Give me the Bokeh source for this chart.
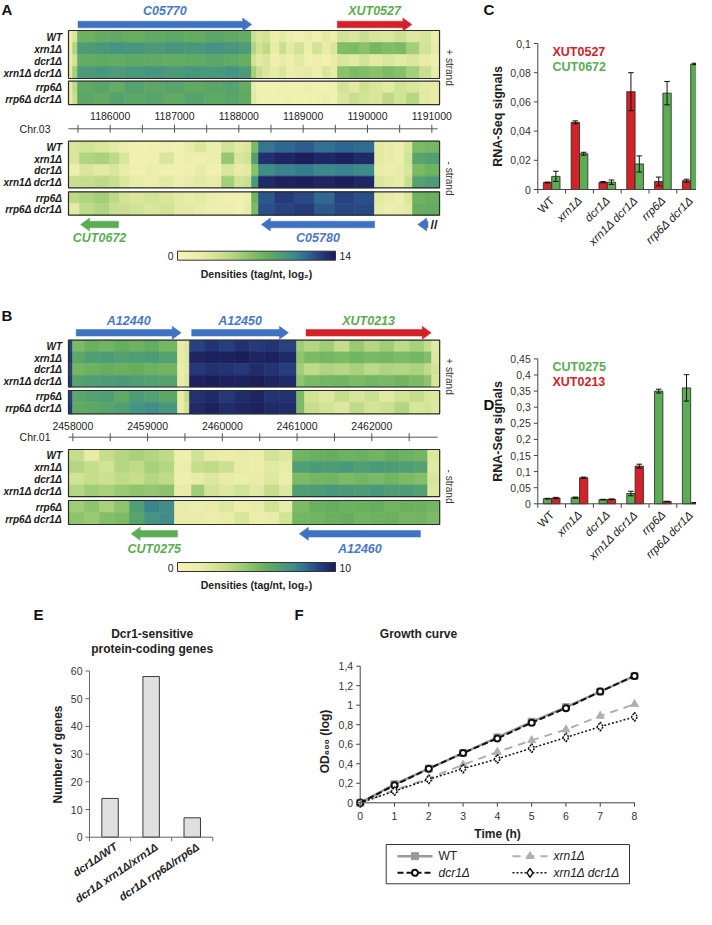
import numpy as np
from bokeh.plotting import figure
from bokeh.models import Range1d, ColumnDataSource, LinearColorMapper
from bokeh.transform import transform
from bokeh.core.properties import value
from bokeh.embed import file_html
from bokeh.resources import INLINE

# ============================ DATA ============================
ROWS = ["WT", "xrn1Δ", "dcr1Δ", "xrn1Δ dcr1Δ", "rrp6Δ", "rrp6Δ dcr1Δ"]

# ---- Panel A (Chr.03), log2 densities 0..14 ----
A_ticks = [1185500, 1186000, 1186500, 1187000, 1187500, 1188000, 1188500,
           1189000, 1189500, 1190000, 1190500, 1191000]
A_tick_labels = ["1186000", "1187000", "1188000", "1189000", "1190000", "1191000"]
A_plus_edges = [1185352, 1185414, 1185492, 1185756, 1185990, 1186223, 1186534, 1186845,
                1187156, 1187466, 1187777, 1188010, 1188197, 1188274, 1188368, 1188492,
                1188632, 1188741, 1188866, 1189021, 1189146, 1189301, 1189425, 1189534,
                1189721, 1189876, 1190032, 1190234, 1190420, 1190607, 1190809, 1190996, 1191120]
A_plus = {
    "WT":          [1.5, 3.0, 7.6, 8.0, 8.2, 7.9, 8.1, 8.3, 8.0, 8.4, 8.2, 8.0, 4.0, 3.0, 3.5, 1.5,
                    2.5, 1.5, 1.0, 2.0, 1.2, 2.5, 1.5, 3.5, 3.0, 4.0, 3.2, 3.0, 3.8, 2.8, 3.2, 1.5],
    "xrn1Δ":       [2.0, 5.0, 9.2, 9.5, 9.8, 9.6, 9.4, 9.7, 9.5, 9.8, 9.6, 9.3, 5.0, 3.5, 4.5, 2.0,
                    4.0, 2.5, 3.5, 1.5, 3.5, 2.0, 3.0, 6.8, 7.0, 6.5, 7.2, 6.8, 7.0, 5.5, 3.5, 2.0],
    "dcr1Δ":       [1.8, 3.5, 8.0, 8.2, 8.0, 8.3, 8.1, 8.0, 8.2, 8.4, 8.1, 7.8, 3.5, 2.5, 3.0, 1.2,
                    2.0, 1.5, 2.5, 1.0, 1.5, 1.0, 2.0, 3.0, 2.5, 3.5, 2.5, 3.0, 2.5, 3.0, 2.0, 1.2],
    "xrn1Δ dcr1Δ": [2.5, 5.5, 9.4, 9.6, 9.3, 9.5, 9.7, 9.4, 9.6, 9.5, 9.8, 9.4, 5.5, 4.0, 3.0, 2.0,
                    3.0, 1.5, 2.0, 2.5, 1.5, 3.0, 2.0, 6.5, 7.0, 6.8, 6.5, 7.0, 6.6, 5.5, 4.0, 2.0],
    "rrp6Δ":       [2.5, 4.5, 8.2, 8.6, 8.0, 8.8, 8.3, 8.6, 8.1, 8.5, 8.7, 8.0, 2.0, 1.0, 1.0, 1.0,
                    1.2, 1.0, 1.0, 1.5, 1.0, 1.0, 1.2, 3.5, 2.5, 3.8, 3.0, 2.5, 3.5, 3.0, 2.5, 2.0],
    "rrp6Δ dcr1Δ": [2.0, 4.0, 8.4, 8.2, 8.8, 8.4, 8.6, 8.2, 8.7, 8.3, 8.5, 8.1, 2.5, 1.2, 1.0, 1.0,
                    1.0, 1.2, 1.0, 1.0, 1.0, 1.5, 1.0, 3.0, 4.0, 3.5, 3.0, 4.5, 3.5, 4.8, 2.5, 2.0],
}
A_minus_edges = [1185352, 1185523, 1185756, 1185990, 1186145, 1186301, 1186534, 1186767,
                 1187000, 1187156, 1187311, 1187498, 1187731, 1187933, 1188089, 1188197,
                 1188306, 1188555, 1188866, 1189177, 1189488, 1189799, 1190109, 1190264,
                 1190420, 1190575, 1190700, 1190886, 1191120]
A_minus = {
    "WT":          [3.0, 3.5, 3.0, 2.5, 1.5, 1.0, 1.0, 1.2, 1.0, 2.0, 3.0, 1.5, 3.5, 2.5,
                    3.0, 7.0, 11.0, 11.5, 11.8, 11.2, 11.6, 11.4, 2.5, 2.0, 1.5, 3.0, 7.0, 7.2],
    "xrn1Δ":       [3.0, 5.0, 5.2, 4.5, 3.0, 1.0, 1.2, 3.0, 1.0, 1.5, 1.2, 1.5, 6.0, 3.0,
                    3.5, 9.0, 13.2, 13.6, 13.8, 13.5, 13.7, 13.4, 2.5, 2.0, 1.5, 3.5, 8.5, 9.0],
    "dcr1Δ":       [1.5, 3.0, 2.5, 3.0, 2.0, 1.0, 1.5, 1.0, 1.0, 1.2, 2.0, 1.0, 3.0, 2.0,
                    2.5, 6.5, 10.2, 10.6, 10.8, 10.4, 10.6, 10.3, 2.0, 1.5, 2.0, 3.0, 7.0, 7.5],
    "xrn1Δ dcr1Δ": [4.0, 4.2, 4.5, 4.0, 3.0, 2.0, 1.5, 2.5, 1.5, 2.0, 2.5, 2.0, 5.5, 3.5,
                    4.0, 9.5, 13.4, 13.7, 13.8, 13.6, 13.8, 13.5, 3.0, 2.5, 2.0, 4.0, 8.8, 9.2],
    "rrp6Δ":       [4.5, 5.0, 5.5, 4.5, 3.5, 3.0, 3.5, 3.0, 2.5, 2.0, 2.5, 1.5, 1.2, 1.0,
                    1.5, 7.5, 12.0, 12.8, 12.4, 11.5, 12.6, 12.2, 2.5, 2.0, 1.5, 3.0, 7.5, 7.8],
    "rrp6Δ dcr1Δ": [2.5, 4.5, 5.0, 4.0, 4.0, 3.5, 3.0, 3.5, 2.5, 2.5, 2.0, 1.5, 1.5, 1.0,
                    2.0, 7.0, 12.2, 12.6, 12.8, 12.0, 12.5, 12.4, 2.0, 1.5, 2.0, 2.5, 7.8, 8.0],
}
A_gene_name = ["C05770", "XUT0527", "CUT0672", "C05780", ""]
A_gene_start = [1185500, 1189530, 1185540, 1188350, 1190780]
A_gene_end = [1188200, 1190690, 1186130, 1190110, 1190940]
A_gene_strand = ["+", "+", "-", "-", "-"]

# ---- Panel B (Chr.01), log2 densities 0..10 ----
B_ticks = [2458000, 2458500, 2459000, 2459500, 2460000, 2460500, 2461000,
           2461500, 2462000, 2462500]
B_tick_labels = ["2458000", "2459000", "2460000", "2461000", "2462000"]
B_plus_edges = [2457942, 2457996, 2458156, 2458357, 2458557, 2458758, 2458959, 2459159,
                2459400, 2459493, 2459560, 2459761, 2459962, 2460163, 2460363, 2460564,
                2460765, 2460993, 2461100, 2461301, 2461502, 2461703, 2461904, 2462105,
                2462306, 2462507, 2462707, 2462801, 2462908]
B_plus = {
    "WT":          [9.0, 5.0, 5.5, 5.3, 5.6, 5.4, 5.7, 5.2, 1.5, 2.0, 9.0, 9.3, 9.1, 9.4,
                    9.2, 9.3, 9.0, 4.0, 3.5, 4.0, 3.0, 4.2, 3.5, 4.0, 3.2, 3.8, 3.0, 1.8],
    "xrn1Δ":       [9.2, 6.0, 6.5, 6.6, 6.4, 6.5, 6.6, 6.3, 1.5, 2.0, 9.7, 9.8, 9.8, 9.9,
                    9.7, 9.8, 9.6, 4.5, 5.0, 5.2, 5.0, 5.3, 5.1, 5.2, 5.0, 5.2, 4.8, 2.0],
    "dcr1Δ":       [9.0, 5.2, 5.4, 5.6, 5.5, 5.6, 5.4, 5.3, 1.2, 1.8, 9.2, 9.4, 9.3, 9.2,
                    9.5, 9.3, 9.1, 4.0, 3.2, 3.6, 3.4, 3.8, 3.3, 3.6, 3.5, 3.7, 3.2, 2.5],
    "xrn1Δ dcr1Δ": [9.2, 6.2, 6.5, 6.6, 6.7, 6.5, 6.4, 6.3, 1.5, 2.0, 9.8, 9.9, 9.8, 9.8,
                    9.9, 9.7, 9.6, 4.5, 5.0, 5.2, 5.3, 5.0, 5.2, 5.1, 5.3, 5.0, 4.5, 2.2],
    "rrp6Δ":       [9.0, 6.0, 6.3, 6.5, 5.8, 6.6, 6.4, 6.0, 1.5, 3.0, 9.4, 9.6, 9.2, 9.5,
                    9.7, 9.3, 9.4, 5.0, 2.5, 2.0, 3.0, 2.2, 2.8, 1.8, 2.5, 3.0, 2.2, 2.0],
    "rrp6Δ dcr1Δ": [9.2, 5.8, 6.0, 6.2, 6.5, 7.0, 7.2, 6.8, 1.5, 2.5, 9.6, 9.8, 9.5, 9.7,
                    9.8, 9.6, 9.5, 5.0, 3.0, 2.5, 2.0, 3.2, 2.4, 2.8, 3.5, 2.2, 2.5, 2.0],
}
B_minus_edges = [2457942, 2458156, 2458357, 2458557, 2458758, 2458959, 2459159, 2459360,
                 2459588, 2459761, 2459962, 2460163, 2460363, 2460564, 2460765, 2460939,
                 2461167, 2461368, 2461569, 2461770, 2461971, 2462172, 2462373, 2462574,
                 2462748, 2462908]
B_minus = {
    "WT":          [3.0, 1.5, 3.0, 3.5, 3.8, 3.5, 3.2, 1.0, 2.5, 1.5, 1.2, 1.5, 1.2,
                    2.5, 2.0, 5.3, 5.5, 5.6, 5.4, 5.5, 5.3, 5.6, 5.4, 5.2, 2.0],
    "xrn1Δ":       [3.5, 3.0, 2.5, 3.5, 3.2, 3.8, 3.5, 1.2, 3.0, 3.2, 2.8, 1.5, 1.2,
                    1.8, 1.5, 6.5, 6.7, 6.6, 6.8, 6.5, 6.7, 6.6, 6.5, 6.3, 1.8],
    "dcr1Δ":       [2.5, 3.0, 2.8, 3.2, 3.0, 3.5, 3.2, 1.0, 1.5, 2.0, 1.5, 1.2, 1.5,
                    2.0, 1.2, 5.0, 5.2, 5.3, 5.0, 5.2, 5.1, 5.3, 5.0, 4.8, 2.2],
    "xrn1Δ dcr1Δ": [3.5, 4.0, 3.8, 4.2, 4.5, 4.3, 4.6, 1.5, 4.0, 2.5, 2.0, 2.5, 1.8,
                    3.0, 2.0, 6.5, 6.6, 6.8, 6.7, 6.6, 6.8, 6.5, 6.6, 6.4, 2.0],
    "rrp6Δ":       [4.0, 4.5, 3.8, 4.5, 6.5, 7.5, 7.2, 1.5, 1.2, 1.5, 2.0, 1.2, 1.5,
                    2.5, 1.5, 5.0, 5.5, 5.6, 5.4, 5.5, 5.6, 5.3, 5.5, 5.4, 5.2],
    "rrp6Δ dcr1Δ": [4.5, 4.2, 4.8, 5.0, 6.2, 7.0, 7.3, 1.5, 1.5, 1.2, 1.5, 2.2, 1.2,
                    1.5, 2.5, 5.2, 5.3, 5.5, 5.6, 5.3, 5.4, 5.5, 5.2, 5.3, 5.0],
}
B_gene_name = ["A12440", "A12450", "XUT0213", "CUT0275", "A12460"]
B_gene_start = [2458045, 2459590, 2461120, 2458780, 2461030]
B_gene_end = [2459450, 2460885, 2462795, 2459400, 2462650]
B_gene_strand = ["+", "+", "+", "-", "-"]

# ---- Panels C / D ----
CD_categories = ["WT", "xrn1Δ", "dcr1Δ", "xrn1Δ dcr1Δ", "rrp6Δ", "rrp6Δ dcr1Δ"]
C_XUT0527 = [0.0048, 0.046, 0.005, 0.067, 0.0055, 0.006]
C_XUT0527_err = [0.0003, 0.001, 0.0004, 0.013, 0.003, 0.001]
C_CUT0672 = [0.009, 0.0245, 0.005, 0.0175, 0.066, 0.086]
C_CUT0672_err = [0.0035, 0.001, 0.0015, 0.0055, 0.008, 0.0005]
C_yticks = [0, 0.02, 0.04, 0.06, 0.08, 0.1]
C_ylabels = ["0", "0,02", "0,04", "0,06", "0,08", "0,1"]

D_CUT0275 = [0.016, 0.019, 0.013, 0.032, 0.350, 0.360]
D_CUT0275_err = [0.001, 0.002, 0.001, 0.007, 0.006, 0.041]
D_XUT0213 = [0.018, 0.081, 0.014, 0.117, 0.007, 0.003]
D_XUT0213_err = [0.002, 0.002, 0.001, 0.006, 0.001, 0.001]
D_yticks = [0, 0.05, 0.1, 0.15, 0.2, 0.25, 0.3, 0.35, 0.4, 0.45]
D_ylabels = ["0", "0,05", "0,1", "0,15", "0,2", "0,25", "0,3", "0,35", "0,4", "0,45"]

# ---- Panel E ----
E_categories = ["dcr1Δ/WT", "dcr1Δ xrn1Δ/xrn1Δ", "dcr1Δ rrp6Δ/rrp6Δ"]
E_genes = [14, 58, 7]
E_yticks = [0, 10, 20, 30, 40, 50, 60]

# ---- Panel F ----
F_time = [0, 1, 2, 3, 4, 5, 6, 7, 8]
F_WT = [0, 0.19, 0.35, 0.51, 0.67, 0.83, 0.98, 1.14, 1.30]
F_xrn1 = [0, 0.13, 0.25, 0.39, 0.52, 0.64, 0.75, 0.89, 1.01]
F_dcr1 = [0, 0.18, 0.35, 0.51, 0.66, 0.82, 0.97, 1.14, 1.30]
F_xrn1dcr1 = [0, 0.12, 0.24, 0.35, 0.45, 0.56, 0.67, 0.78, 0.88]
F_yticks = [0, 0.2, 0.4, 0.6, 0.8, 1.0, 1.2, 1.4]
F_ylabels = ["0", "0,2", "0,4", "0,6", "0,8", "1", "1,2", "1,4"]

# ============================ STYLE ============================
FONT = "Liberation Sans"
BLUE, GREEN, RED = "#3f72c2", "#5aad52", "#d3222a"
BLUE_T, GREEN_T, RED_T = "#4a78c6", "#5aad52", "#d3222a"
X0, X1, Y0, Y1 = 6.0, 702.0, 6.0, 915.0
W, H = 696, 909
EF = -10.0   # vertical shift of the bottom row (E, F) so the slanted labels fit

stops = [(0.0, "#f7f4b8"), (0.15, "#e8eca8"), (0.3, "#c6de8c"), (0.45, "#8fc46c"),
         (0.56, "#66ae5e"), (0.66, "#4e9c76"), (0.74, "#3d8a8c"), (0.83, "#2e6592"),
         (0.92, "#25397a"), (1.0, "#1b1b56")]


def _hex2rgb(h):
    return np.array([int(h[i:i + 2], 16) for i in (1, 3, 5)], dtype=float)


pos = np.array([s[0] for s in stops])
cols = np.array([_hex2rgb(s[1]) for s in stops])
PALETTE = []
for f in np.linspace(0, 1, 256):
    rgb = [np.interp(f, pos, cols[:, k]) for k in range(3)]
    PALETTE.append("#%02x%02x%02x" % tuple(int(round(c)) for c in rgb))

mapA = LinearColorMapper(palette=PALETTE, low=0, high=14)
mapB = LinearColorMapper(palette=PALETTE, low=0, high=10)

p = figure(width=W, height=H, x_range=Range1d(X0, X1), y_range=Range1d(Y1, Y0),
           x_axis_location=None, y_axis_location=None, output_backend="svg",
           toolbar_location=None, min_border=0, outline_line_color=None)
p.grid.visible = False
p.background_fill_color = "white"
p.border_fill_color = "white"


def xmap(px0, v0, px1, v1):
    s = (v1 - v0) / (px1 - px0)
    return Range1d(start=v0 + (X0 - px0) * s, end=v0 + (X1 - px0) * s)


def ymap(py0, v0, py1, v1):
    s = (v1 - v0) / (py1 - py0)
    return Range1d(start=v0 + (Y1 - py0) * s, end=v0 + (Y0 - py0) * s)


p.extra_x_ranges = {
    "A": xmap(115.67, 1186000, 437.33, 1191000),
    "B": xmap(78.33, 2458000, 414.67, 2462500),
    "C": xmap(543.3, -0.5, 710.1, 5.5),
    "E": xmap(95.0, -0.5, 218.3, 2.5),
    "F": xmap(365.7, 0, 640.0, 8),
}
p.extra_y_ranges = {
    "C": ymap(195.0, 0, 49.0, 0.1),
    "D": ymap(509.3, 0, 364.4, 0.45),
    "E": ymap(852.7 + EF, 0, 686.5 + EF, 60),
    "F": ymap(818.3 + EF, 0, 720.7 + EF, 1.0),
}


def dxp(name, px):
    if name == "default":
        return px
    r = p.extra_x_ranges[name]
    return px * (r.end - r.start) / (X1 - X0)


def dyp(name, px):
    """data offset for moving px DOWN on screen"""
    if name == "default":
        return px
    r = p.extra_y_ranges[name]
    return -px * (r.end - r.start) / (Y1 - Y0)


def T(x, y, s, size=10.5, color="#222222", style="normal", align="left",
      baseline="middle", angle=0.0, xr="default", yr="default"):
    p.text(x=[x], y=[y], text=[s], text_font=value(FONT), text_font_size=f"{size}px",
           text_font_style=style, text_color=color, text_align=align,
           text_baseline=baseline, angle=angle, x_range_name=xr, y_range_name=yr)


# ============================ HEATMAPS ============================
def heatmap(rng, edges, vals, geom, mapper):
    t1, h1, t2, h2 = geom
    tops = [t1 + i * h1 for i in range(4)] + [t2 + i * h2 for i in range(2)]
    hs = [h1] * 4 + [h2] * 2
    L, R, TT, B, V = [], [], [], [], []
    for r, name in enumerate(ROWS):
        for a, b, v in zip(edges[:-1], edges[1:], vals[name]):
            L.append(a); R.append(b); TT.append(tops[r]); B.append(tops[r] + hs[r]); V.append(v)
    src = ColumnDataSource(dict(l=L, r=R, t=TT, b=B, v=V))
    p.quad(left="l", right="r", top="t", bottom="b", source=src,
           fill_color=transform("v", mapper), line_color=transform("v", mapper),
           line_width=0.6, x_range_name=rng)
    p.quad(left=[edges[0]] * 2, right=[edges[-1]] * 2, top=[t1, t2],
           bottom=[t1 + 4 * h1, t2 + 2 * h2], fill_color=None, line_color="#2b2b2b",
           line_width=1.2, x_range_name=rng)
    for r, name in enumerate(ROWS):
        T(67.5, tops[r] + hs[r] / 2 + 0.5, name, size=10, style="bold italic",
          align="right", color="#1a1a1a")


def ruler(rng, ticks, labels, start, end, y, lab_y, chrom):
    p.segment(x0=[start], y0=[y], x1=[end], y1=[y], line_color="#555555",
              line_width=1, x_range_name=rng)
    n = len(ticks)
    p.segment(x0=ticks, y0=[y - 4] * n, x1=ticks, y1=[y + 4] * n,
              line_color="#555555", line_width=1, x_range_name=rng)
    for lab in labels:
        T(int(lab), lab_y, lab, size=10.5, align="center", color="#222222", xr=rng)
    T(56, y, chrom, size=10.5, align="right", color="#222222")


def gene_color(name):
    if name.startswith("XUT"):
        return RED, GREEN_T
    if name.startswith("CUT"):
        return GREEN, GREEN_T
    return BLUE, BLUE_T


def genes(rng, names, starts, ends, strands, y_plus, y_minus, ly_plus, ly_minus):
    hl = dxp(rng, 9)
    sh, hh = 3.3, 6.5
    xs, ys, fc = [], [], []
    for n, s, e, st in zip(names, starts, ends, strands):
        yc = y_plus if st == "+" else y_minus
        if st == "+":
            xx = [s, e - hl, e - hl, e, e - hl, e - hl, s]
        else:
            xx = [e, s + hl, s + hl, s, s + hl, s + hl, e]
        xs.append(xx)
        ys.append([yc - sh, yc - sh, yc - hh, yc, yc + hh, yc + sh, yc + sh])
        ac, lc = gene_color(n)
        fc.append(ac)
        if n:
            T((s + e) / 2, ly_plus if st == "+" else ly_minus, n, size=12.5,
              style="bold italic", color=lc, align="center", xr=rng)
    p.patches(xs=xs, ys=ys, fill_color=fc, line_color=fc, line_width=0.5, x_range_name=rng)


def colorbar(mapper, hi, y_top, title_y):
    grad = np.linspace(0, hi, 256)[None, :]
    p.image(image=[grad], x=183, y=y_top, dw=158, dh=9, color_mapper=mapper)
    p.quad(left=[183], right=[341], top=[y_top], bottom=[y_top + 9], fill_color=None,
           line_color="#333333", line_width=1)
    T(179, y_top + 5, "0", align="right")
    T(345, y_top + 5, str(hi), align="left")
    T(262, title_y, "Densities (tag/nt, log₂)", size=10.5, style="bold", align="center")


# Panel A
heatmap("A", A_plus_edges, A_plus, (36.0, 12.0, 86.7, 11.7), mapA)
heatmap("A", A_minus_edges, A_minus, (146.7, 11.67, 197.3, 11.7), mapA)
ruler("A", A_ticks, A_tick_labels, A_plus_edges[0], A_plus_edges[-1] - dxp("A", 2), 134.3, 121.7, "Chr.03")
genes("A", A_gene_name, A_gene_start, A_gene_end, A_gene_strand, 30.0, 230.0, 16.7, 243.3)
T(439.5, 229.5, "//", size=13, style="bold", align="center", color="#222222")
colorbar(mapA, 14, 256.7, 279.0)
T(455, 73, "+ strand", size=10, color="#333333", align="center", angle=-np.pi / 2)
T(455, 184, "- strand", size=10, color="#333333", align="center", angle=-np.pi / 2)

# Panel B
heatmap("B", B_plus_edges, B_plus, (345.7, 11.7, 396.0, 11.67), mapB)
heatmap("B", B_minus_edges, B_minus, (455.0, 11.8, 506.0, 12.0), mapB)
ruler("B", B_ticks, B_tick_labels, B_plus_edges[0], B_plus_edges[-1] - dxp("B", 2), 442.7, 431.7, "Chr.01")
genes("B", B_gene_name, B_gene_start, B_gene_end, B_gene_strand, 338.3, 539.3, 326.7, 554.0)
colorbar(mapB, 10, 568.0, 590.7)
T(455, 382, "+ strand", size=10, color="#333333", align="center", angle=-np.pi / 2)
T(455, 492, "- strand", size=10, color="#333333", align="center", angle=-np.pi / 2)


# ============================ C / D ============================
def grouped(yr, s1, e1, c1, s2, e2, c2, yticks, ylabs, ylabel_y, leg, leg_y):
    idx = np.arange(len(CD_categories))
    for off, vals, errs, col in [(-0.15, s1, e1, c1), (0.15, s2, e2, c2)]:
        x = idx + off
        v = np.array(vals); er = np.array(errs)
        p.vbar(x=x, width=0.3, top=v, bottom=0, fill_color=col, line_color="#262626",
               line_width=0.8, x_range_name="C", y_range_name=yr)
        p.segment(x0=x, y0=v - er, x1=x, y1=v + er, line_color="#111111", line_width=1,
                  x_range_name="C", y_range_name=yr)
        for yy in (v - er, v + er):
            p.segment(x0=x - 0.1, y0=yy, x1=x + 0.1, y1=yy, line_color="#111111",
                      line_width=1, x_range_name="C", y_range_name=yr)
    n = len(yticks)
    kw = dict(line_color="#444444", line_width=1, x_range_name="C", y_range_name=yr)
    p.segment(x0=[-0.5], y0=[0], x1=[-0.5], y1=[yticks[-1]], **kw)
    p.segment(x0=[-0.5] * n, y0=yticks, x1=[-0.5 - dxp("C", 4)] * n, y1=yticks, **kw)
    for t, l in zip(yticks, ylabs):
        T(-0.5 - dxp("C", 7), t, l, size=10.5, align="right", color="#333333", xr="C", yr=yr)
    p.segment(x0=[-0.5], y0=[0], x1=[5.5], y1=[0], **kw)
    bnd = list(np.arange(-0.5, 6.0, 1.0))
    p.segment(x0=bnd, y0=[0] * len(bnd), x1=bnd, y1=[dyp(yr, 4)] * len(bnd), **kw)
    for i, c in enumerate(CD_categories):
        T(i + dxp("C", 0.5), dyp(yr, 9), c, size=11.5, style="normal" if c == "WT" else "italic",
          align="right", angle=np.pi / 4, xr="C", yr=yr, color="#222222")
    T(503, ylabel_y, "RNA-Seq signals", size=12.5, style="bold", align="center",
      angle=np.pi / 2, color="#222222")
    for (name, col), yy in zip(leg, leg_y):
        T(558, yy, name, size=12.5, style="bold", color=col)


grouped("C", C_XUT0527, C_XUT0527_err, RED, C_CUT0672, C_CUT0672_err, GREEN,
        C_yticks, C_ylabels, 122, [("XUT0527", RED_T), ("CUT0672", GREEN_T)], [57, 72])
grouped("D", D_CUT0275, D_CUT0275_err, GREEN, D_XUT0213, D_XUT0213_err, RED,
        D_yticks, D_ylabels, 437, [("CUT0275", GREEN_T), ("XUT0213", RED_T)], [372, 387])

# ============================ E ============================
eidx = np.arange(len(E_categories))
p.vbar(x=eidx, width=0.4, top=E_genes, bottom=0, fill_color="#e0e0e0", line_color="#3a3a3a",
       line_width=1, x_range_name="E", y_range_name="E")
kwE = dict(line_color="#666666", line_width=1, x_range_name="E", y_range_name="E")
p.segment(x0=[-0.5], y0=[0], x1=[-0.5], y1=[E_yticks[-1]], **kwE)
p.segment(x0=[-0.5] * len(E_yticks), y0=E_yticks, x1=[-0.5 - dxp("E", 4)] * len(E_yticks),
          y1=E_yticks, **kwE)
for t in E_yticks:
    T(-0.5 - dxp("E", 7), t, str(t), size=10.5, align="right", color="#333333", xr="E", yr="E")
p.segment(x0=[-0.5], y0=[0], x1=[2.5], y1=[0], **kwE)
eb = [-0.5, 0.5, 1.5, 2.5]
p.segment(x0=eb, y0=[0] * 4, x1=eb, y1=[dyp("E", 4)] * 4, **kwE)
for i, c in enumerate(E_categories):
    T(i + dxp("E", 6), dyp("E", 8), c, size=11, style="bold italic", align="right",
      angle=np.radians(34), xr="E", yr="E", color="#222222")
T(157.7, 649.3 + EF, "Dcr1-sensitive", size=12, style="bold", align="center")
T(157.7, 664.0 + EF, "protein-coding genes", size=12, style="bold", align="center")
T(63, 770 + EF, "Number of genes", size=12, style="bold", align="center", angle=np.pi / 2)

# ============================ F ============================
kwF = dict(x_range_name="F", y_range_name="F")
p.line(F_time, F_WT, line_color="#999999", line_width=2.5, **kwF)
p.scatter(F_time, F_WT, marker="square", size=7, fill_color="#999999", line_color="#999999", **kwF)
p.line(F_time, F_xrn1, line_color="#b0b0b0", line_width=2, line_dash="8 6", **kwF)
p.scatter(F_time, F_xrn1, marker="triangle", size=8, fill_color="#b0b0b0", line_color="#b0b0b0", **kwF)
p.line(F_time, F_dcr1, line_color="#111111", line_width=2, line_dash="6 3", **kwF)
p.scatter(F_time, F_dcr1, marker="circle", size=6, fill_color="white", line_color="#111111",
          line_width=2, **kwF)
p.line(F_time, F_xrn1dcr1, line_color="#111111", line_width=1.5, line_dash="2 2", **kwF)
p.scatter(F_time, F_xrn1dcr1, marker="diamond", size=9, fill_color="white", line_color="#111111",
          line_width=1.5, line_dash="2 1", **kwF)

kwFa = dict(line_color="#444444", line_width=1, **kwF)
p.segment(x0=[0], y0=[0], x1=[0], y1=[F_yticks[-1]], **kwFa)
p.segment(x0=[0] * len(F_yticks), y0=F_yticks, x1=[-dxp("F", 4)] * len(F_yticks), y1=F_yticks, **kwFa)
for t, l in zip(F_yticks, F_ylabels):
    T(-dxp("F", 7), t, l, size=10.5, align="right", color="#333333", xr="F", yr="F")
p.segment(x0=[0], y0=[0], x1=[8], y1=[0], **kwFa)
p.segment(x0=F_time, y0=[0] * len(F_time), x1=F_time, y1=[dyp("F", 4)] * len(F_time), **kwFa)
for t in F_time:
    T(t, dyp("F", 13), str(t), size=10.5, align="center", color="#333333", xr="F", yr="F")
T(424, 649.3 + EF, "Growth curve", size=12, style="bold", align="center")
T(503, 849 + EF, "Time (h)", size=12, style="bold", align="center")
T(330, 757 + EF, "OD₆₀₀ (log)", size=12, style="bold", align="center", angle=np.pi / 2)

# legend of F (decoration)
p.quad(left=[391.7], right=[635], top=[860 + EF], bottom=[899.3 + EF], fill_color="white",
       line_color="#333333", line_width=1)
leg_rows = [
    (403, 871.7, "WT", "normal", dict(line_color="#999999", line_width=2.5),
     dict(marker="square", size=7, fill_color="#999999", line_color="#999999")),
    (518, 871.7, "xrn1Δ", "italic", dict(line_color="#b0b0b0", line_width=2, line_dash="8 6"),
     dict(marker="triangle", size=8, fill_color="#b0b0b0", line_color="#b0b0b0")),
    (403, 888.3, "dcr1Δ", "italic", dict(line_color="#111111", line_width=2, line_dash="6 3"),
     dict(marker="circle", size=6, fill_color="white", line_color="#111111", line_width=2)),
    (518, 888.3, "xrn1Δ dcr1Δ", "italic", dict(line_color="#111111", line_width=1.5, line_dash="2 2"),
     dict(marker="diamond", size=9, fill_color="white", line_color="#111111", line_width=1.5)),
]
for lx, ly, lab, st, lkw, mkw in leg_rows:
    p.segment(x0=[lx], y0=[ly + EF], x1=[lx + 35], y1=[ly + EF], **lkw)
    p.scatter(x=[lx + 17.5], y=[ly + EF], **mkw)
    T(lx + 41, ly + EF, lab, size=12, style=st, color="#222222")

# panel letters
for letter, lx, ly in [("A", 7, 6), ("B", 7, 312), ("C", 489, 6), ("D", 489, 401),
                       ("E", 39, 621 + EF), ("F", 300, 621 + EF)]:
    T(lx, ly, letter, size=15, style="bold", baseline="top", color="#111111")

open("out.html", "w").write(file_html(p, INLINE))
